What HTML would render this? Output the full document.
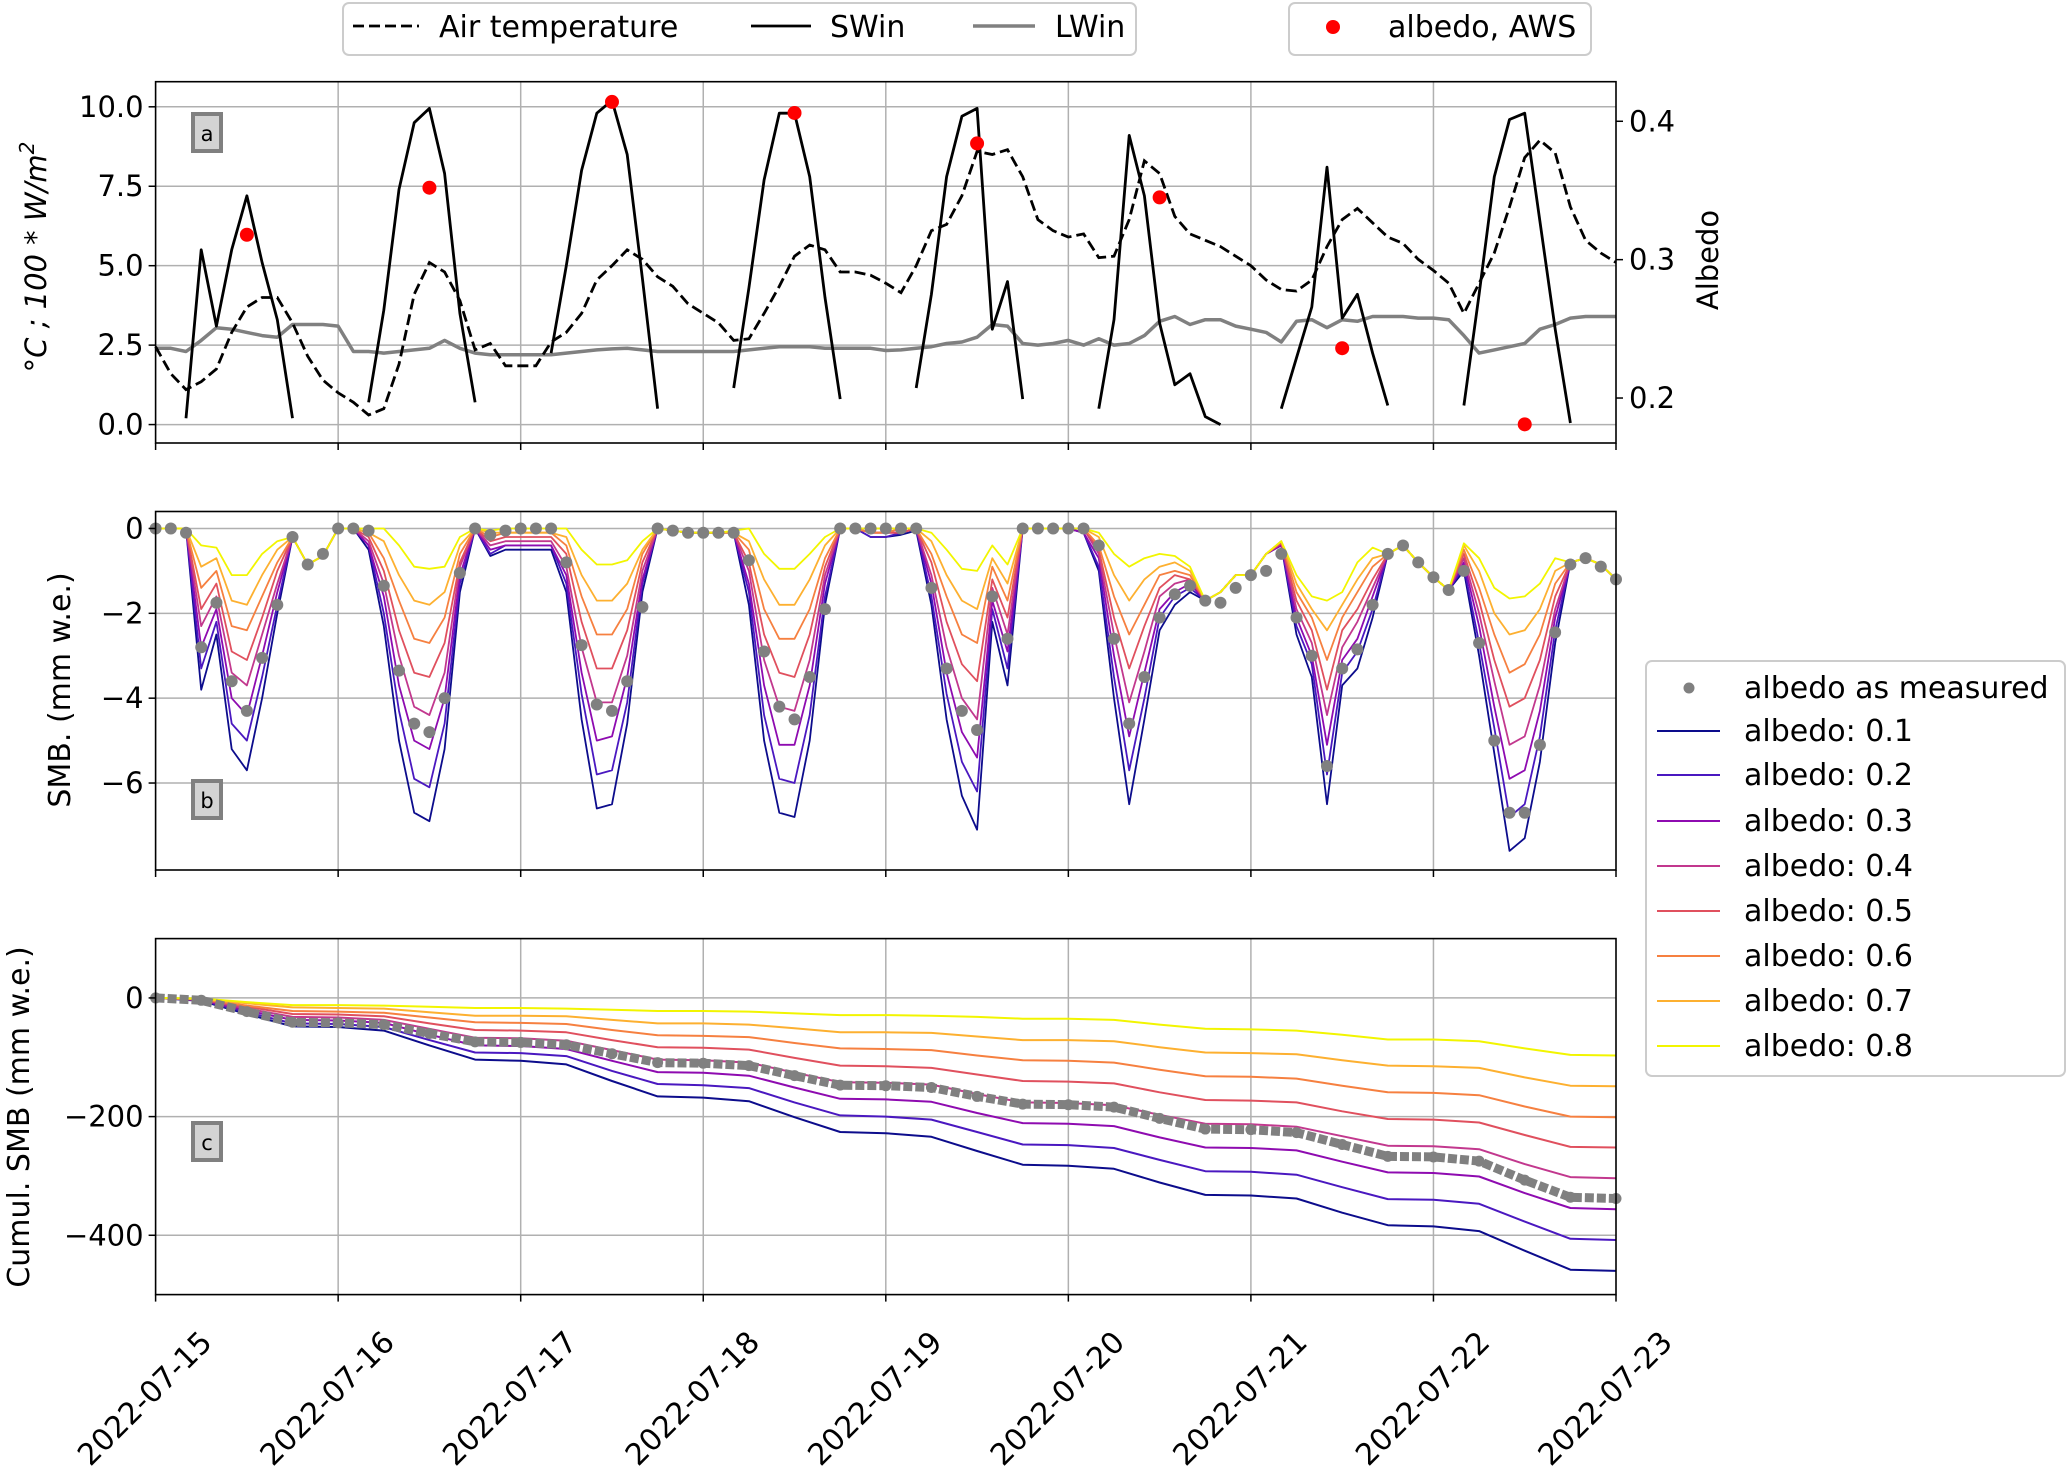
<!DOCTYPE html>
<html><head><meta charset="utf-8"><style>
html,body{margin:0;padding:0;background:#fff;}
svg{display:block;font-family:"DejaVu Sans","Liberation Sans",sans-serif;}
</style></head><body>
<svg id="chart" xmlns="http://www.w3.org/2000/svg" width="2067" height="1474" viewBox="0 0 2067 1474">
<rect x="0" y="0" width="2067" height="1474" fill="#fff"/>
<g id="grid"></g>
<g id="marks"></g>
<g id="axes"></g>

<!-- top legend -->
<g>
<rect x="343" y="3" width="793" height="52" rx="6" fill="#fff" stroke="#cccccc" stroke-width="2"/>
<g>
<line x1="353" y1="26" x2="419" y2="26" stroke="#000" stroke-width="2.8" stroke-dasharray="11 5"/>
<text x="439" y="37" font-size="30">Air temperature</text></g>
<g>
<line x1="751" y1="26" x2="811" y2="26" stroke="#000" stroke-width="2.8"/>
<text x="830" y="37" font-size="30">SWin</text></g>
<g>
<line x1="973" y1="26" x2="1035" y2="26" stroke="#808080" stroke-width="3.5"/>
<text x="1055" y="37" font-size="30">LWin</text></g>
<rect x="1289" y="3" width="302" height="52" rx="6" fill="#fff" stroke="#cccccc" stroke-width="2"/>
<g>
<circle cx="1333" cy="27" r="7" fill="#ff0000"/>
<text x="1388" y="37" font-size="30">albedo, AWS</text></g>
</g>

<!-- right legend -->
<g>
<rect x="1646" y="661" width="419" height="415" rx="6" fill="#fff" stroke="#cccccc" stroke-width="2"/>
<g><circle cx="1689" cy="688" r="5.5" fill="#808080"/><text x="1744" y="698" font-size="30">albedo as measured</text></g>
<g><line x1="1657" y1="731" x2="1720" y2="731" stroke="#0c0c8c" stroke-width="2"/><text x="1744" y="741" font-size="30">albedo: 0.1</text></g>
<g><line x1="1657" y1="775" x2="1720" y2="775" stroke="#4a18c0" stroke-width="2"/><text x="1744" y="785" font-size="30">albedo: 0.2</text></g>
<g><line x1="1657" y1="821" x2="1720" y2="821" stroke="#8e0bb0" stroke-width="2"/><text x="1744" y="831" font-size="30">albedo: 0.3</text></g>
<g><line x1="1657" y1="866" x2="1720" y2="866" stroke="#c2388e" stroke-width="2"/><text x="1744" y="876" font-size="30">albedo: 0.4</text></g>
<g><line x1="1657" y1="911" x2="1720" y2="911" stroke="#e0505e" stroke-width="2"/><text x="1744" y="921" font-size="30">albedo: 0.5</text></g>
<g><line x1="1657" y1="956" x2="1720" y2="956" stroke="#f68040" stroke-width="2"/><text x="1744" y="966" font-size="30">albedo: 0.6</text></g>
<g><line x1="1657" y1="1001" x2="1720" y2="1001" stroke="#fdb030" stroke-width="2"/><text x="1744" y="1011" font-size="30">albedo: 0.7</text></g>
<g><line x1="1657" y1="1046" x2="1720" y2="1046" stroke="#f2f500" stroke-width="2"/><text x="1744" y="1056" font-size="30">albedo: 0.8</text></g>
</g>

<!-- axis titles -->
<text transform="translate(46,257) rotate(-90)" text-anchor="middle" font-size="29" font-style="italic">°C ; 100 * W/m<tspan font-size="20" dy="-12">2</tspan></text>
<text transform="translate(1718,260) rotate(-90)" text-anchor="middle" font-size="29">Albedo</text>
<text transform="translate(70,690) rotate(-90)" text-anchor="middle" font-size="30">SMB. (mm w.e.)</text>
<text transform="translate(29,1117) rotate(-90)" text-anchor="middle" font-size="30">Cumul. SMB (mm w.e.)</text>

<!-- panel tags -->
<g><rect x="193" y="114" width="28" height="37" fill="#d3d3d3" stroke="#808080" stroke-width="4"/><text x="207" y="141" text-anchor="middle" font-size="21">a</text></g>
<g><rect x="193" y="781" width="28" height="37" fill="#d3d3d3" stroke="#808080" stroke-width="4"/><text x="207" y="808" text-anchor="middle" font-size="21">b</text></g>
<g><rect x="193" y="1123" width="28" height="37" fill="#d3d3d3" stroke="#808080" stroke-width="4"/><text x="207" y="1150" text-anchor="middle" font-size="21">c</text></g>
</svg>
<script>
// ---- data (2-hourly, 2022-07-15 00:00 .. 2022-07-23 00:00) ----
const dayLabels = ["2022-07-15","2022-07-16","2022-07-17","2022-07-18","2022-07-19","2022-07-20","2022-07-21","2022-07-22","2022-07-23"];
const swin = [
null,null,0.2,5.5,3.1,5.5,7.2,5.1,3.3,0.2,null,null,
null,null,0.7,3.6,7.4,9.5,9.95,7.9,3.5,0.7,null,null,
null,null,2.25,5.0,8.0,9.8,10.2,8.5,4.6,0.5,null,null,
null,null,1.15,4.3,7.7,9.8,9.8,7.8,4.0,0.8,null,null,
null,null,1.15,4.1,7.8,9.7,9.95,3.0,4.5,0.8,null,null,
null,null,0.5,3.3,9.1,7.2,3.2,1.25,1.6,0.25,0,null,
null,null,0.5,2.1,3.7,8.1,3.35,4.1,2.25,0.6,null,null,
null,null,0.6,4.1,7.8,9.6,9.8,6.4,3.0,0.05,null,null,null];
const airTemp = [
2.45,1.6,1.1,1.35,1.75,2.9,3.7,4.0,4.0,3.2,2.15,1.4,
1.0,0.7,0.3,0.5,1.9,4.1,5.1,4.8,3.9,2.35,2.55,1.85,
1.85,1.85,2.6,2.9,3.5,4.55,5.0,5.5,5.2,4.65,4.35,3.8,
3.5,3.2,2.65,2.7,3.5,4.35,5.3,5.65,5.5,4.8,4.8,4.7,
4.45,4.15,5.0,6.1,6.3,7.2,8.6,8.5,8.65,7.8,6.45,6.1,
5.9,6.0,5.25,5.3,6.45,8.3,7.9,6.55,6.0,5.8,5.6,5.3,
5.0,4.55,4.25,4.2,4.55,5.6,6.45,6.8,6.35,5.9,5.7,5.2,
4.85,4.45,3.5,4.45,5.4,6.85,8.4,8.95,8.55,6.85,5.8,5.4,5.1];
const lwin = [
2.4,2.4,2.3,2.65,3.05,3.0,2.9,2.8,2.75,3.15,3.15,3.15,
3.1,2.3,2.3,2.25,2.3,2.35,2.4,2.65,2.4,2.25,2.2,2.2,
2.2,2.2,2.2,2.25,2.3,2.35,2.38,2.4,2.35,2.3,2.3,2.3,
2.3,2.3,2.3,2.35,2.4,2.45,2.45,2.45,2.4,2.4,2.4,2.4,
2.33,2.35,2.4,2.45,2.55,2.6,2.75,3.15,3.1,2.55,2.5,2.55,
2.65,2.5,2.7,2.5,2.55,2.8,3.25,3.4,3.15,3.3,3.3,3.1,
3.0,2.9,2.6,3.25,3.3,3.05,3.3,3.25,3.4,3.4,3.4,3.35,
3.35,3.3,2.8,2.25,2.35,2.45,2.55,3.0,3.15,3.35,3.4,3.4,3.4];
// AWS albedo, daily at noon
const albedoDays = [0,1,2,3,4,5,6,7];
const albedoAWS = [0.318,0.352,0.414,0.406,0.384,0.345,0.236,0.181];

const smb01 = [
0,0,0,-3.8,-2.5,-5.2,-5.7,-4.0,-2.0,-0.2,-0.85,-0.65,
0,0,-0.5,-2.3,-5.0,-6.7,-6.9,-5.2,-1.5,0,-0.65,-0.5,
-0.5,-0.5,-0.5,-1.5,-4.5,-6.6,-6.5,-4.6,-1.5,0,-0.05,-0.1,
-0.1,-0.1,-0.1,-1.8,-5.0,-6.7,-6.8,-5.0,-1.8,0,0,-0.2,
-0.2,-0.15,-0.05,-1.8,-4.5,-6.3,-7.1,-2.2,-3.7,0,0,0,
0,-0.1,-1.0,-4.0,-6.5,-4.5,-2.4,-1.8,-1.5,-1.7,-1.5,-1.1,
-1.1,-0.6,-0.4,-2.5,-3.5,-6.5,-3.7,-3.3,-2.1,-0.6,-0.4,-0.8,
-1.15,-1.45,-1.0,-3.0,-5.3,-7.6,-7.3,-5.5,-2.7,-0.8,-0.7,-0.85,-1.2];
const smb02 = [
0,0,0,-3.3,-2.2,-4.6,-5.0,-3.5,-1.8,-0.2,-0.85,-0.65,
0,0,-0.4,-2.0,-4.3,-5.9,-6.1,-4.6,-1.3,0,-0.6,-0.4,
-0.4,-0.4,-0.4,-1.3,-3.9,-5.8,-5.7,-4.1,-1.3,0,-0.05,-0.1,
-0.1,-0.1,-0.1,-1.5,-4.4,-5.9,-6.0,-4.4,-1.6,0,0,-0.2,
-0.2,-0.1,0,-1.6,-3.9,-5.5,-6.2,-1.9,-3.3,0,0,0,
0,-0.1,-0.9,-3.5,-5.7,-4.0,-2.1,-1.6,-1.4,-1.7,-1.5,-1.1,
-1.1,-0.6,-0.4,-2.3,-3.2,-5.8,-3.4,-2.9,-1.9,-0.6,-0.4,-0.8,
-1.15,-1.45,-0.9,-2.7,-4.7,-6.8,-6.5,-4.9,-2.4,-0.8,-0.7,-0.85,-1.2];
const smb03 = [
0,0,0,-2.8,-1.9,-4.0,-4.4,-3.0,-1.5,-0.2,-0.85,-0.65,
0,0,-0.4,-1.6,-3.7,-5.0,-5.2,-4.0,-1.1,0,-0.5,-0.4,
-0.4,-0.4,-0.4,-1.1,-3.4,-5.0,-4.9,-3.5,-1.2,0,-0.05,-0.1,
-0.1,-0.1,-0.1,-1.3,-3.7,-5.1,-5.1,-3.7,-1.3,0,0,-0.1,
-0.1,-0.1,0,-1.3,-3.4,-4.8,-5.4,-1.7,-2.9,0,0,0,
0,-0.1,-0.7,-3.0,-4.9,-3.4,-1.9,-1.5,-1.3,-1.7,-1.5,-1.1,
-1.1,-0.6,-0.4,-2.1,-3.0,-5.1,-3.1,-2.6,-1.6,-0.6,-0.4,-0.8,
-1.15,-1.45,-0.8,-2.3,-4.2,-5.9,-5.7,-4.3,-2.1,-0.8,-0.7,-0.85,-1.2];
const smb04 = [
0,0,0,-2.3,-1.6,-3.4,-3.7,-2.5,-1.3,-0.2,-0.85,-0.65,
0,0,-0.3,-1.3,-3.0,-4.2,-4.4,-3.4,-0.9,0,-0.4,-0.3,
-0.3,-0.3,-0.3,-0.9,-2.8,-4.1,-4.1,-3.0,-1.0,0,-0.05,-0.1,
-0.1,-0.1,-0.1,-1.0,-3.1,-4.2,-4.3,-3.1,-1.1,0,0,-0.1,
-0.1,-0.1,0,-1.1,-2.8,-4.0,-4.5,-1.4,-2.5,0,0,0,
0,0,-0.6,-2.5,-4.1,-2.9,-1.6,-1.3,-1.2,-1.7,-1.5,-1.1,
-1.1,-0.6,-0.35,-1.9,-2.7,-4.4,-2.8,-2.2,-1.4,-0.6,-0.4,-0.8,
-1.15,-1.45,-0.7,-2.0,-3.6,-5.1,-4.9,-3.7,-1.9,-0.8,-0.7,-0.85,-1.2];
const smb05 = [
0,0,0,-1.9,-1.3,-2.9,-3.1,-2.1,-1.0,-0.2,-0.85,-0.65,
0,0,-0.2,-1.0,-2.4,-3.4,-3.5,-2.7,-0.8,0,-0.3,-0.2,
-0.2,-0.2,-0.2,-0.6,-2.2,-3.3,-3.3,-2.4,-0.8,0,-0.05,-0.1,
-0.1,-0.1,-0.1,-0.8,-2.5,-3.4,-3.5,-2.5,-0.9,0,0,-0.1,
-0.1,-0.1,0,-0.8,-2.2,-3.2,-3.6,-1.2,-2.1,0,0,0,
0,0,-0.5,-2.1,-3.3,-2.3,-1.4,-1.1,-1.2,-1.7,-1.5,-1.1,
-1.1,-0.6,-0.35,-1.7,-2.4,-3.8,-2.4,-1.9,-1.2,-0.6,-0.4,-0.8,
-1.15,-1.45,-0.6,-1.7,-3.1,-4.2,-4.0,-3.1,-1.6,-0.8,-0.7,-0.85,-1.2];
const smb06 = [
0,0,0,-1.4,-1.0,-2.3,-2.4,-1.6,-0.8,-0.2,-0.85,-0.65,
0,0,-0.1,-0.7,-1.7,-2.6,-2.7,-2.1,-0.6,0,-0.2,-0.1,
-0.1,-0.1,-0.1,-0.4,-1.6,-2.5,-2.5,-1.9,-0.6,0,-0.05,-0.1,
-0.1,-0.1,-0.1,-0.5,-1.9,-2.6,-2.6,-1.9,-0.7,0,0,-0.1,
-0.1,0,0,-0.6,-1.6,-2.5,-2.7,-0.9,-1.7,0,0,0,
0,0,-0.4,-1.6,-2.5,-1.8,-1.1,-1.0,-1.1,-1.7,-1.5,-1.1,
-1.1,-0.6,-0.3,-1.5,-2.1,-3.1,-2.1,-1.5,-0.9,-0.6,-0.4,-0.8,
-1.15,-1.45,-0.5,-1.4,-2.5,-3.4,-3.2,-2.5,-1.3,-0.8,-0.7,-0.85,-1.2];
const smb07 = [
0,0,0,-0.9,-0.7,-1.7,-1.8,-1.1,-0.5,-0.2,-0.85,-0.65,
0,0,-0.1,-0.3,-1.1,-1.7,-1.8,-1.5,-0.4,0,-0.1,-0.1,
-0.1,-0.1,-0.1,-0.2,-1.1,-1.7,-1.7,-1.3,-0.5,0,-0.05,-0.1,
-0.1,-0.1,-0.1,-0.3,-1.2,-1.8,-1.8,-1.2,-0.4,0,0,0,
0,0,0,-0.3,-1.1,-1.7,-1.9,-0.7,-1.3,0,0,0,
0,0,-0.2,-1.1,-1.7,-1.2,-0.9,-0.8,-1.0,-1.7,-1.5,-1.1,
-1.1,-0.6,-0.3,-1.3,-1.9,-2.4,-1.8,-1.2,-0.7,-0.6,-0.4,-0.8,
-1.15,-1.45,-0.4,-1.0,-2.0,-2.5,-2.4,-1.9,-1.0,-0.8,-0.7,-0.85,-1.2];
const smb08 = [
0,0,0,-0.4,-0.45,-1.1,-1.1,-0.6,-0.3,-0.2,-0.85,-0.65,
0,0,0,0,-0.4,-0.9,-0.95,-0.9,-0.2,0,-0.05,0,
0,0,0,0,-0.5,-0.85,-0.85,-0.75,-0.3,0,-0.05,-0.1,
-0.1,-0.1,-0.05,0,-0.6,-0.95,-0.95,-0.6,-0.2,0,0,0,
0,0,0,-0.1,-0.5,-0.95,-1.0,-0.4,-0.85,0,0,0,
0,0,-0.1,-0.6,-0.9,-0.7,-0.6,-0.65,-0.9,-1.7,-1.5,-1.1,
-1.1,-0.6,-0.3,-1.1,-1.6,-1.7,-1.5,-0.8,-0.45,-0.6,-0.4,-0.8,
-1.15,-1.45,-0.35,-0.7,-1.4,-1.65,-1.6,-1.3,-0.7,-0.8,-0.7,-0.85,-1.2];
const smbMeasured = [
0,0,-0.1,-2.8,-1.75,-3.6,-4.3,-3.05,-1.8,-0.2,-0.85,-0.6,
0,0,-0.05,-1.35,-3.35,-4.6,-4.8,-4.0,-1.05,0,-0.15,-0.05,
0,0,0,-0.8,-2.75,-4.15,-4.3,-3.6,-1.85,0,-0.05,-0.1,
-0.1,-0.1,-0.1,-0.75,-2.9,-4.2,-4.5,-3.5,-1.9,0,0,0,
0,0,0,-1.4,-3.3,-4.3,-4.75,-1.6,-2.6,0,0,0,
0,0,-0.4,-2.6,-4.6,-3.5,-2.1,-1.55,-1.35,-1.7,-1.75,-1.4,
-1.1,-1.0,-0.6,-2.1,-3.0,-5.6,-3.3,-2.85,-1.8,-0.6,-0.4,-0.8,
-1.15,-1.45,-1.0,-2.7,-5.0,-6.7,-6.7,-5.1,-2.45,-0.85,-0.7,-0.9,-1.2];

// cumulative SMB, 6-hourly
const cum01 = [0,-5,-27,-48,-49,-55,-80,-104,-106,-112,-140,-166,-168,-174,-201,-226,-228,-234,-258,-281,-283,-288,-311,-332,-333,-338,-362,-383,-385,-393,-426,-458,-460];
const cum02 = [0,-4,-24,-43,-44,-49,-71,-92,-93,-98,-123,-145,-147,-152,-176,-198,-200,-205,-226,-247,-248,-253,-273,-292,-293,-298,-319,-339,-340,-347,-377,-406,-408];
const cum03 = [0,-4,-21,-37,-38,-42,-62,-80,-81,-86,-106,-125,-126,-131,-151,-170,-171,-175,-194,-211,-212,-216,-235,-252,-253,-257,-276,-294,-295,-301,-329,-354,-356];
const cum04 = [0,-3,-18,-32,-33,-37,-52,-67,-68,-72,-88,-104,-105,-109,-126,-142,-143,-146,-162,-176,-177,-181,-197,-212,-213,-217,-233,-249,-250,-255,-280,-302,-304];
const cum05 = [0,-3,-15,-27,-28,-31,-43,-54,-55,-58,-71,-83,-84,-87,-101,-114,-115,-118,-129,-140,-141,-144,-159,-172,-173,-176,-191,-204,-205,-210,-231,-251,-252];
const cum06 = [0,-2,-13,-22,-23,-25,-33,-41,-42,-44,-54,-63,-64,-66,-76,-85,-86,-88,-97,-105,-106,-109,-121,-132,-133,-136,-148,-159,-160,-164,-183,-200,-201];
const cum07 = [0,-2,-9,-16,-17,-18,-24,-30,-30,-31,-37,-43,-43,-45,-51,-58,-58,-59,-65,-71,-71,-73,-83,-92,-93,-95,-105,-114,-115,-118,-134,-148,-149];
const cum08 = [0,-1,-7,-12,-12,-13,-15,-17,-17,-18,-20,-22,-22,-23,-26,-29,-29,-30,-32,-35,-35,-37,-45,-52,-53,-55,-62,-70,-70,-73,-85,-96,-97];
const cumMeasured = [0,-4,-23,-41,-42,-45,-60,-74,-75,-79,-94,-109,-110,-114,-131,-147,-148,-151,-166,-179,-180,-184,-203,-221,-222,-227,-247,-267,-268,-275,-307,-336,-338];

const ticksA = [0,2.5,5,7.5,10];
const tickLabelsA = ["0.0","2.5","5.0","7.5","10.0"];
const ticksAlb = [0.2,0.3,0.4];
const tickLabelsAlb = ["0.2","0.3","0.4"];
const ticksB = [0,-2,-4,-6];
const tickLabelsB = ["0","\u22122","\u22124","\u22126"];
const ticksC = [0,-200,-400];
const tickLabelsC = ["0","\u2212200","\u2212400"];

// ---- layout ----
const NS = "http://www.w3.org/2000/svg";
const L = 155.6, R = 1616;
const PA = {top:81.7, bot:443, min:-0.58, max:10.79};
const PB = {top:511.5, bot:870, min:-8.05, max:0.4};
const PC = {top:938.6, bot:1294.6, min:-500, max:100};
const ALB = {min:0.1675, max:0.4286};
const seriesB = [smb01,smb02,smb03,smb04,smb05,smb06,smb07,smb08];
const seriesC = [cum01,cum02,cum03,cum04,cum05,cum06,cum07,cum08];
const colors = ["#0c0c8c","#4a18c0","#8e0bb0","#c2388e","#e0505e","#f68040","#fdb030","#f2f500"];

function xDay(d){ return L + (R - L) * d / 8; }
function x2h(i){ return xDay(i * 2 / 24); }
function x6h(i){ return xDay(i * 6 / 24); }
function yOf(P, v){ return P.top + (P.max - v) / (P.max - P.min) * (P.bot - P.top); }
function yAlb(v){ return PA.top + (ALB.max - v) / (ALB.max - ALB.min) * (PA.bot - PA.top); }

const gGrid = document.getElementById("grid");
const gMarks = document.getElementById("marks");
const gAxes = document.getElementById("axes");
function mk(tag, attrs, parent){
  const e = document.createElementNS(NS, tag);
  for (const k in attrs) e.setAttribute(k, attrs[k]);
  parent.appendChild(e);
  return e;
}
function pathD(vals, xf, yf){
  let d = "", pen = false;
  vals.forEach((v, i) => {
    if (v === null) { pen = false; return; }
    d += (pen ? "L" : "M") + xf(i).toFixed(1) + "," + yf(v).toFixed(1);
    pen = true;
  });
  return d;
}

const panels = [
  {P:PA, ticks:ticksA, labels:tickLabelsA, name:"a"},
  {P:PB, ticks:ticksB, labels:tickLabelsB, name:"b"},
  {P:PC, ticks:ticksC, labels:tickLabelsC, name:"c"}
];
panels.forEach(p => {
  for (let d = 1; d < 8; d++) {
    const gl = mk("line", {x1:xDay(d), x2:xDay(d), y1:p.P.top, y2:p.P.bot, stroke:"#b0b0b0", "stroke-width":1.5}, gGrid);
    
    
  }
  p.ticks.forEach((t, i) => {
    const y = yOf(p.P, t);
    const gl = mk("line", {x1:L, x2:R, y1:y, y2:y, stroke:"#b0b0b0", "stroke-width":1.5}, gGrid);
    
    
    const tk = mk("line", {x1:L-7, x2:L, y1:y, y2:y, stroke:"#000", "stroke-width":1.5}, gAxes);
    
    
    const tl = mk("text", {x:L-12, y:y+10, "text-anchor":"end", "font-size":29}, gAxes);
    tl.textContent = p.labels[i];
    
    
  });
  for (let d = 0; d <= 8; d++) {
    const tk = mk("line", {x1:xDay(d), x2:xDay(d), y1:p.P.bot, y2:p.P.bot+7, stroke:"#000", "stroke-width":1.5}, gAxes);
    
    
  }
  const fr = mk("rect", {x:L, y:p.P.top, width:R-L, height:p.P.bot-p.P.top, fill:"none", stroke:"#000", "stroke-width":1.6}, gAxes);
  
  
});
// right albedo axis
ticksAlb.forEach((t, i) => {
  const y = yAlb(t);
  const tk = mk("line", {x1:R, x2:R+7, y1:y, y2:y, stroke:"#000", "stroke-width":1.5}, gAxes);
  
  
  const tl = mk("text", {x:R+13, y:y+10, "text-anchor":"start", "font-size":29}, gAxes);
  tl.textContent = tickLabelsAlb[i];
  
  
});
// date labels
dayLabels.forEach((lab, d) => {
  const px = xDay(d) + 58, py = 1344;
  const t = mk("text", {x:0, y:0, "text-anchor":"end", "font-size":30, transform:"translate(" + px.toFixed(1) + "," + py + ") rotate(-45)"}, gAxes);
  t.textContent = lab;
  
  
});

// ---- panel a ----
const yA = v => yOf(PA, v);
const pl = mk("path", {d:pathD(lwin, x2h, yA), fill:"none", stroke:"#808080", "stroke-width":3.5, "stroke-linejoin":"round"}, gMarks);


const pt = mk("path", {d:pathD(airTemp, x2h, yA), fill:"none", stroke:"#000", "stroke-width":2.8, "stroke-dasharray":"11 5"}, gMarks);


const ps = mk("path", {d:pathD(swin, x2h, yA), fill:"none", stroke:"#000", "stroke-width":2.8, "stroke-linejoin":"round"}, gMarks);


albedoAWS.forEach((v, i) => {
  const c = mk("circle", {cx:xDay(albedoDays[i] + 0.5), cy:yAlb(v), r:7, fill:"#ff0000"}, gMarks);
  
  
});

// ---- panel b ----
const yB = v => yOf(PB, v);
seriesB.forEach((s, k) => {
  const p = mk("path", {d:pathD(s, x2h, yB), fill:"none", stroke:colors[k], "stroke-width":1.8, "stroke-linejoin":"round"}, gMarks);
  
  
});
smbMeasured.forEach((v, i) => {
  const c = mk("circle", {cx:x2h(i), cy:yB(v), r:6, fill:"#808080"}, gMarks);
  
  
});

// ---- panel c ----
const yC = v => yOf(PC, v);
seriesC.forEach((s, k) => {
  const p = mk("path", {d:pathD(s, x6h, yC), fill:"none", stroke:colors[k], "stroke-width":2, "stroke-linejoin":"round"}, gMarks);
  
  
});
const cm = mk("path", {d:pathD(cumMeasured, x6h, yC), fill:"none", stroke:"#808080", "stroke-width":9, "stroke-dasharray":"9 3", "stroke-linejoin":"round"}, gMarks);


cumMeasured.forEach((v, i) => {
  const c = mk("circle", {cx:x6h(i), cy:yC(v), r:5.5, fill:"#808080"}, gMarks);
  
  
});
</script>
</body></html>
